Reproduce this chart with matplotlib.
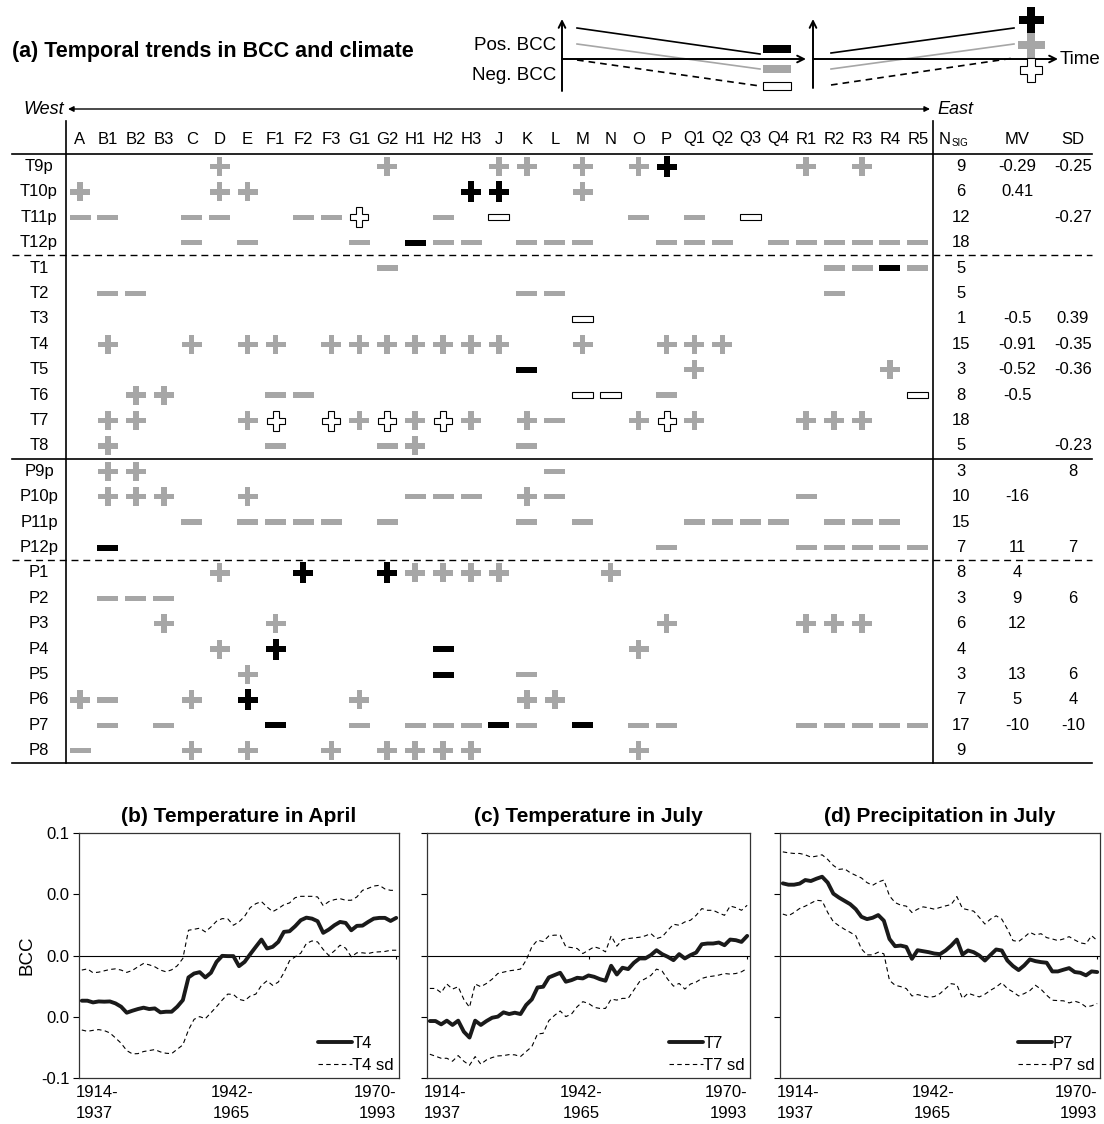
import matplotlib
matplotlib.use('Agg')
import matplotlib.pyplot as plt
from matplotlib.patches import Polygon, Rectangle
import matplotlib.transforms as mtransforms

plt.rcParams['font.family'] = 'Liberation Sans'

# ---------------- data ----------------
columns = ['A', 'B1', 'B2', 'B3', 'C', 'D', 'E', 'F1', 'F2', 'F3', 'G1', 'G2', 'H1', 'H2', 'H3',
           'J', 'K', 'L', 'M', 'N', 'O', 'P', 'Q1', 'Q2', 'Q3', 'Q4', 'R1', 'R2', 'R3', 'R4', 'R5']
row_labels = ['T9p', 'T10p', 'T11p', 'T12p', 'T1', 'T2', 'T3', 'T4', 'T5', 'T6', 'T7', 'T8',
              'P9p', 'P10p', 'P11p', 'P12p', 'P1', 'P2', 'P3', 'P4', 'P5', 'P6', 'P7', 'P8']
# g = grey (n.s.), k = black, o = open ; + positive trend, - negative trend
trend_rows = [
    "D:g+ G2:g+ J:g+ K:g+ M:g+ O:g+ P:k+ R1:g+ R3:g+",
    "A:g+ D:g+ E:g+ H3:k+ J:k+ M:g+",
    "A:g- B1:g- C:g- D:g- F2:g- F3:g- G1:o+ H2:g- J:o- O:g- Q1:g- Q3:o-",
    "C:g- E:g- G1:g- H1:k- H2:g- H3:g- K:g- L:g- M:g- P:g- Q1:g- Q2:g- Q4:g- R1:g- R2:g- R3:g- R4:g- R5:g-",
    "G2:g- R2:g- R3:g- R4:k- R5:g-",
    "B1:g- B2:g- K:g- L:g- R2:g-",
    "M:o-",
    "B1:g+ C:g+ E:g+ F1:g+ F3:g+ G1:g+ G2:g+ H1:g+ H2:g+ H3:g+ J:g+ M:g+ P:g+ Q1:g+ Q2:g+",
    "K:k- Q1:g+ R4:g+",
    "B2:g+ B3:g+ F1:g- F2:g- M:o- N:o- P:g- R5:o-",
    "B1:g+ B2:g+ E:g+ F1:o+ F3:o+ G1:g+ G2:o+ H1:g+ H2:o+ H3:g+ K:g+ L:g- O:g+ P:o+ Q1:g+ R1:g+ R2:g+ R3:g+",
    "B1:g+ F1:g- G2:g- H1:g+ K:g-",
    "B1:g+ B2:g+ L:g-",
    "B1:g+ B2:g+ B3:g+ E:g+ H1:g- H2:g- H3:g- K:g+ L:g- R1:g-",
    "C:g- E:g- F1:g- F2:g- F3:g- G2:g- K:g- M:g- Q1:g- Q2:g- Q3:g- Q4:g- R2:g- R3:g- R4:g-",
    "B1:k- P:g- R1:g- R2:g- R3:g- R4:g- R5:g-",
    "D:g+ F2:k+ G2:k+ H1:g+ H2:g+ H3:g+ J:g+ N:g+",
    "B1:g- B2:g- B3:g-",
    "B3:g+ F1:g+ P:g+ R1:g+ R2:g+ R3:g+",
    "D:g+ F1:k+ H2:k- O:g+",
    "E:g+ H2:k- K:g-",
    "A:g+ B1:g- C:g+ E:k+ G1:g+ K:g+ L:g+",
    "B1:g- B3:g- F1:k- G1:g- H1:g- H2:g- H3:g- J:k- K:g- M:k- O:g- P:g- R1:g- R2:g- R3:g- R4:g- R5:g-",
    "A:g- C:g+ E:g+ F3:g+ G2:g+ H1:g+ H2:g+ H3:g+ O:g+",
]
n_sig = [9, 6, 12, 18, 5, 5, 1, 15, 3, 8, 18, 5, 3, 10, 15, 7, 8, 3, 6, 4, 3, 7, 17, 9]
mv = ['-0.29', '0.41', '', '', '', '', '-0.5', '-0.91', '-0.52', '-0.5', '', '',
      '', '-16', '', '11', '4', '9', '12', '', '13', '5', '-10', '']
sd = ['-0.25', '', '-0.27', '', '', '', '0.39', '-0.35', '-0.36', '', '', '-0.23',
      '8', '', '', '7', '', '6', '', '', '6', '4', '-10', '']

period_labels = ['1914-\n1937', '1942-\n1965', '1970-\n1993']
ytick_labels = ['-0.1', '0.0', '0.0', '0.0', '0.1']

T4 = [-0.0369, -0.0369, -0.0383, -0.0375, -0.0377, -0.0375, -0.0391, -0.0418, -0.0467, -0.0451,
      -0.0437, -0.0426, -0.0437, -0.0432, -0.0464, -0.0459, -0.0459, -0.0418, -0.0364, -0.0179,
      -0.0147, -0.0136, -0.0179, -0.0141, -0.0052, -0.0003, -0.0005, -0.0005, -0.0087, -0.0052,
      0.0011, 0.0071, 0.0130, 0.0057, 0.0071, 0.0111, 0.0193, 0.0198, 0.0239, 0.0288,
      0.0309, 0.0301, 0.0280, 0.0185, 0.0212, 0.0247, 0.0274, 0.0266, 0.0206, 0.0242,
      0.0244, 0.0274, 0.0301, 0.0307, 0.0307, 0.0282, 0.0307]
T4_sd_up = [-0.0119, -0.0109, -0.0141, -0.0136, -0.0125, -0.0114, -0.0109, -0.0119, -0.0138, -0.0122,
            -0.0092, -0.0065, -0.0076, -0.0092, -0.0119, -0.0133, -0.0117, -0.0084, -0.0024, 0.0206,
            0.0214, 0.0223, 0.0193, 0.0233, 0.0280, 0.0301, 0.0299, 0.0247, 0.0274, 0.0320,
            0.0391, 0.0423, 0.0440, 0.0396, 0.0358, 0.0383, 0.0415, 0.0429, 0.0472, 0.0483,
            0.0483, 0.0483, 0.0478, 0.0407, 0.0440, 0.0456, 0.0464, 0.0451, 0.0451, 0.0478,
            0.0532, 0.0548, 0.0567, 0.0573, 0.0543, 0.0532, 0.0532]
T4_sd_lo = [-0.0608, -0.0619, -0.0611, -0.0605, -0.0613, -0.0632, -0.0673, -0.0716, -0.0776, -0.0803,
            -0.0801, -0.0784, -0.0776, -0.0768, -0.0787, -0.0798, -0.0801, -0.0765, -0.0730, -0.0608,
            -0.0521, -0.0499, -0.0516, -0.0467, -0.0418, -0.0364, -0.0315, -0.0318, -0.0358, -0.0369,
            -0.0331, -0.0315, -0.0244, -0.0206, -0.0244, -0.0217, -0.0141, -0.0043, -0.0011, 0.0019,
            0.0098, 0.0119, 0.0111, 0.0049, 0.0000, 0.0038, 0.0084, 0.0060, -0.0011, 0.0022,
            0.0022, 0.0016, 0.0027, 0.0030, 0.0033, 0.0043, 0.0043]

T7 = [-0.0535, -0.0535, -0.0562, -0.0532, -0.0567, -0.0532, -0.0622, -0.0670, -0.0532, -0.0567,
      -0.0535, -0.0508, -0.0499, -0.0464, -0.0478, -0.0467, -0.0478, -0.0404, -0.0358, -0.0261,
      -0.0255, -0.0179, -0.0160, -0.0141, -0.0214, -0.0201, -0.0182, -0.0187, -0.0163, -0.0174,
      -0.0193, -0.0206, -0.0084, -0.0155, -0.0100, -0.0111, -0.0060, -0.0024, -0.0024, 0.0003,
      0.0043, 0.0011, -0.0011, -0.0038, 0.0011, -0.0024, 0.0003, 0.0024, 0.0092, 0.0098,
      0.0098, 0.0106, 0.0084, 0.0130, 0.0125, 0.0111, 0.0160]
T7_sd_up = [-0.0269, -0.0269, -0.0304, -0.0233, -0.0274, -0.0255, -0.0358, -0.0423, -0.0233, -0.0255,
            -0.0228, -0.0193, -0.0147, -0.0136, -0.0125, -0.0119, -0.0111, -0.0038, 0.0071, 0.0125,
            0.0114, 0.0160, 0.0166, 0.0166, 0.0071, 0.0065, 0.0057, 0.0016, 0.0043, 0.0071,
            0.0057, 0.0030, 0.0160, 0.0076, 0.0130, 0.0138, 0.0144, 0.0149, 0.0160, 0.0179,
            0.0138, 0.0152, 0.0206, 0.0255, 0.0247, 0.0274, 0.0288, 0.0328, 0.0383, 0.0369,
            0.0369, 0.0347, 0.0328, 0.0404, 0.0391, 0.0369, 0.0410]
T7_sd_lo = [-0.0806, -0.0822, -0.0839, -0.0839, -0.0863, -0.0817, -0.0863, -0.0896, -0.0825, -0.0887,
            -0.0852, -0.0833, -0.0820, -0.0817, -0.0809, -0.0811, -0.0825, -0.0784, -0.0744, -0.0641,
            -0.0635, -0.0532, -0.0489, -0.0453, -0.0499, -0.0478, -0.0418, -0.0377, -0.0391, -0.0423,
            -0.0432, -0.0432, -0.0356, -0.0364, -0.0350, -0.0350, -0.0282, -0.0214, -0.0190, -0.0163,
            -0.0111, -0.0128, -0.0195, -0.0250, -0.0228, -0.0274, -0.0233, -0.0217, -0.0187, -0.0174,
            -0.0168, -0.0160, -0.0147, -0.0152, -0.0147, -0.0133, -0.0106]

P7 = [0.0589, 0.0578, 0.0578, 0.0587, 0.0616, 0.0608, 0.0627, 0.0643, 0.0595, 0.0505,
      0.0473, 0.0446, 0.0419, 0.0378, 0.0316, 0.0297, 0.0308, 0.0330, 0.0284, 0.0135,
      0.0076, 0.0081, 0.0070, -0.0027, 0.0043, 0.0035, 0.0027, 0.0016, 0.0011, 0.0041,
      0.0081, 0.0130, 0.0008, 0.0041, 0.0027, 0.0000, -0.0041, 0.0005, 0.0049, 0.0041,
      -0.0041, -0.0086, -0.0119, -0.0081, -0.0032, -0.0046, -0.0054, -0.0059, -0.0130, -0.0130,
      -0.0116, -0.0103, -0.0135, -0.0141, -0.0162, -0.0130, -0.0135]
P7_sd_up = [0.0846, 0.0838, 0.0833, 0.0833, 0.0822, 0.0803, 0.0811, 0.0822, 0.0784, 0.0735,
            0.0703, 0.0708, 0.0676, 0.0654, 0.0633, 0.0595, 0.0573, 0.0600, 0.0616, 0.0487,
            0.0432, 0.0411, 0.0403, 0.0351, 0.0378, 0.0397, 0.0389, 0.0378, 0.0392, 0.0405,
            0.0416, 0.0481, 0.0384, 0.0373, 0.0362, 0.0311, 0.0257, 0.0297, 0.0324, 0.0297,
            0.0216, 0.0122, 0.0114, 0.0149, 0.0189, 0.0168, 0.0178, 0.0146, 0.0135, 0.0122,
            0.0135, 0.0154, 0.0127, 0.0103, 0.0095, 0.0162, 0.0122]
P7_sd_lo = [0.0338, 0.0324, 0.0351, 0.0384, 0.0403, 0.0427, 0.0451, 0.0446, 0.0351, 0.0276,
            0.0243, 0.0214, 0.0189, 0.0162, 0.0054, 0.0005, 0.0005, 0.0027, 0.0014, -0.0203,
            -0.0243, -0.0254, -0.0270, -0.0330, -0.0319, -0.0330, -0.0341, -0.0335, -0.0311, -0.0270,
            -0.0230, -0.0238, -0.0351, -0.0308, -0.0324, -0.0338, -0.0316, -0.0284, -0.0257, -0.0222,
            -0.0270, -0.0297, -0.0330, -0.0311, -0.0287, -0.0243, -0.0276, -0.0324, -0.0365, -0.0368,
            -0.0370, -0.0387, -0.0373, -0.0387, -0.0419, -0.0411, -0.0392]

# ---------------- figure ----------------
W, H = 1104, 1124
fig = plt.figure(figsize=(W / 100, H / 100), dpi=100)
ax = fig.add_axes([0, 0, 1, 1])
ax.set_xlim(0, W)
ax.set_ylim(H, 0)
ax.axis('off')

GRAY = '#a6a6a6'
FS = 12


def draw_symbol(x, y, code, scale=1.0):
    kind, sign = code[0], code[1]
    if kind == 'g':
        fc, ec, lw = GRAY, 'none', 0
    elif kind == 'k':
        fc, ec, lw = 'black', 'none', 0
    else:
        fc, ec, lw = 'white', 'black', 0.8
    if sign == '+':
        w, h, t = {'g': (20, 19, 5.5), 'k': (20, 21, 6), 'o': (18, 20, 6)}[kind]
        w, h, t = w * scale, h * scale, t * scale
        hw, hh, ht = w / 2, h / 2, t / 2
        verts = [(x - ht, y - hh), (x + ht, y - hh), (x + ht, y - ht), (x + hw, y - ht),
                 (x + hw, y + ht), (x + ht, y + ht), (x + ht, y + hh), (x - ht, y + hh),
                 (x - ht, y + ht), (x - hw, y + ht), (x - hw, y - ht), (x - ht, y - ht)]
        ax.add_patch(Polygon(verts, closed=True, fc=fc, ec=ec, lw=lw, zorder=3))
    else:
        w, t = {'g': (21, 5.5), 'k': (21, 6), 'o': (21, 6)}[kind]
        w, t = w * scale, t * scale
        ax.add_patch(Rectangle((x - w / 2, y - t / 2), w, t, fc=fc, ec=ec, lw=lw, zorder=3))


# title
ax.text(12, 52, '(a) Temporal trends in BCC and climate', fontsize=15.5, fontweight='bold',
        ha='left', va='center')

# legend diagram
arrow_kw = dict(arrowstyle='->', lw=1.4, color='black', mutation_scale=12, shrinkA=0, shrinkB=0)
ax.annotate('', xy=(562, 19), xytext=(562, 91), arrowprops=arrow_kw)
ax.annotate('', xy=(806, 59), xytext=(562, 59), arrowprops=arrow_kw)
ax.annotate('', xy=(813, 19), xytext=(813, 88), arrowprops=arrow_kw)
ax.annotate('', xy=(1058, 59), xytext=(813, 59), arrowprops=arrow_kw)
ax.text(556, 45, 'Pos. BCC', fontsize=13.5, ha='right', va='center')
ax.text(556, 75, 'Neg. BCC', fontsize=13.5, ha='right', va='center')
ax.text(1060, 59, 'Time', fontsize=13.5, ha='left', va='center')
ax.plot([577, 760], [28, 54], color='black', lw=1.2)
ax.plot([577, 760], [44, 69], color=GRAY, lw=1.2)
ax.plot([577, 760], [60, 86], color='black', lw=1.2, ls=(0, (4, 3)))
ax.plot([831, 1014], [53, 28], color='black', lw=1.2)
ax.plot([831, 1014], [69, 44], color=GRAY, lw=1.2)
ax.plot([831, 1014], [85, 58], color='black', lw=1.2, ls=(0, (4, 3)))
draw_symbol(777, 49, 'k-', 1.35)
draw_symbol(777, 69, 'g-', 1.35)
draw_symbol(777, 86, 'o-', 1.35)
draw_symbol(1031, 45, 'g+', 1.35)
draw_symbol(1031, 20, 'k+', 1.25)
draw_symbol(1031, 70, 'o+', 1.2)

# West / East arrow
ax.annotate('', xy=(930, 109), xytext=(68, 109),
            arrowprops=dict(arrowstyle='<|-|>', lw=1.0, color='black', mutation_scale=8,
                            shrinkA=0, shrinkB=0))
ax.text(64, 109, 'West', fontsize=13, style='italic', ha='right', va='center')
ax.text(937, 109, 'East', fontsize=13, style='italic', ha='left', va='center')

# table geometry
col_x = [80 + 27.93 * i for i in range(len(columns))]
y0, dy = 166.5, 25.4
row_y = [y0 + dy * j for j in range(len(row_labels))]
x_left, x_right = 12, 1092
x_v1, x_v2 = 66, 933
x_nsig, x_mv, x_sd = 961, 1017, 1073
y_head = 139

for x, c in zip(col_x, columns):
    ax.text(x, y_head, c, fontsize=FS, ha='center', va='center')
ax.text(939, y_head, 'N', fontsize=FS, ha='left', va='center')
ax.text(952, y_head + 4, 'SIG', fontsize=7, ha='left', va='center')
ax.text(x_mv, y_head, 'MV', fontsize=FS, ha='center', va='center')
ax.text(x_sd, y_head, 'SD', fontsize=FS, ha='center', va='center')

# lines
ax.plot([x_left, x_right], [y0 - dy / 2] * 2, color='black', lw=1.2)
for j, style in [(3, 'dash'), (11, 'solid'), (15, 'dash'), (23, 'solid')]:
    yy = row_y[j] + dy / 2
    if style == 'dash':
        ax.plot([x_left, x_right], [yy, yy], color='black', lw=1.0, ls=(0, (5, 3.5)))
    else:
        ax.plot([x_left, x_right], [yy, yy], color='black', lw=1.2)
for xv in (x_v1, x_v2):
    ax.plot([xv, xv], [121, row_y[-1] + dy / 2], color='black', lw=1.2)

col_index = {c: i for i, c in enumerate(columns)}
for j, (lab, spec) in enumerate(zip(row_labels, trend_rows)):
    yy = row_y[j]
    ax.text(39, yy, lab, fontsize=FS, ha='center', va='center')
    for item in spec.split():
        col, code = item.split(':')
        draw_symbol(col_x[col_index[col]], yy, code)
    ax.text(x_nsig, yy, str(n_sig[j]), fontsize=FS, ha='center', va='center')
    if mv[j]:
        ax.text(x_mv, yy, mv[j], fontsize=FS, ha='center', va='center')
    if sd[j]:
        ax.text(x_sd, yy, sd[j], fontsize=FS, ha='center', va='center')

# ---------------- bottom panels ----------------
panels = [
    ((79, 399), T4, T4_sd_up, T4_sd_lo, 'T4', '(b) Temperature in April', True),
    ((427, 750), T7, T7_sd_up, T7_sd_lo, 'T7', '(c) Temperature in July', False),
    ((780, 1100), P7, P7_sd_up, P7_sd_lo, 'P7', '(d) Precipitation in July', False),
]
top, bottom = 833, 1078
for (xl, xr), main, up, lo, name, title, show in panels:
    a = fig.add_axes([xl / W, 1 - bottom / H, (xr - xl) / W, (bottom - top) / H])
    xs = list(range(len(main)))
    a.axhline(0, color='black', lw=0.8, zorder=1)
    a.plot(xs, up, color='black', lw=0.8, ls=(0, (4, 3)), label=name + ' sd', zorder=2)
    a.plot(xs, lo, color='black', lw=0.8, ls=(0, (4, 3)), zorder=2)
    a.plot(xs, main, color='#1a1a1a', lw=2.8, label=name, zorder=3,
           solid_joinstyle='round', solid_capstyle='round')
    a.set_xlim(-0.5, len(main) - 0.5)
    a.set_ylim(-0.1, 0.1)
    a.set_yticks([-0.1, -0.05, 0, 0.05, 0.1])
    if show:
        a.set_yticklabels(ytick_labels, fontsize=12)
        a.set_ylabel('BCC', fontsize=13.5, labelpad=4)
    else:
        a.set_yticklabels([])
    a.tick_params(axis='y', direction='out', length=4, width=0.8, pad=3)
    a.set_xticks([])
    for s in a.spines.values():
        s.set_linewidth(0.9)
        s.set_color('#333333')
    a.vlines([28, 56], -0.003, 0, color='black', lw=0.8)
    tr = mtransforms.blended_transform_factory(a.transData, a.transAxes)
    n = len(main)
    a.text(-1.0, -0.03, period_labels[0], transform=tr, ha='left', va='top', fontsize=12,
           linespacing=1.45)
    a.text(26.7, -0.03, period_labels[1], transform=tr, ha='center', va='top', fontsize=12,
           linespacing=1.45)
    a.text(n - 1.0, -0.03, period_labels[2], transform=tr, ha='right', va='top', fontsize=12,
           linespacing=1.45, multialignment='right')
    a.set_title(title, fontsize=15, fontweight='bold', pad=8)
    h, l = a.get_legend_handles_labels()
    order = [l.index(name), l.index(name + ' sd')]
    a.legend([h[i] for i in order], [l[i] for i in order], loc='lower right', frameon=False,
             fontsize=12, handlelength=2.0, handletextpad=0.05, labelspacing=0.45,
             borderaxespad=0.1, borderpad=0.2)

fig.savefig('out.png', dpi=100)
